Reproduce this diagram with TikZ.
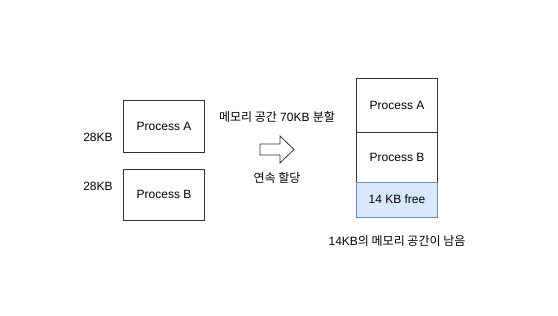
\documentclass[tikz,border=0pt]{standalone}
\usepackage{fontspec}
\setmainfont{Liberation Sans}
\newfontfamily\kr{Noto Sans CJK KR}
\begin{document}
\begin{tikzpicture}[x=1pt,y=-1pt,
  box/.style={draw=black!80, line width=0.8pt, minimum width=81pt, inner sep=0pt, font=\fontsize{12}{14}\selectfont},
  lbl/.style={inner sep=0pt, font=\fontsize{12}{14}\selectfont}]
\useasboundingbox (0,0) rectangle (558,316);
% left boxes
\node[box, minimum height=52pt] (pa) at (164,126) {Process A};
\node[box, minimum height=51pt] (pb) at (164,194.5) {Process B};
\node[lbl] (la) at (98,137.5) {28KB};
\node[lbl] (lb) at (98,186) {28KB};
% arrow
\draw[black!80, line width=0.8pt, fill=white] (260,144) -- (280,144) -- (280,136) -- (294,149.5) -- (280,163) -- (280,155) -- (260,155) -- cycle;
\node[lbl] (t1) at (277,117) {{\kr 메모리 공간} 70KB {\kr 분할}};
\node[lbl] (t2) at (277,178) {\kr 연속 할당};
% right stack
\node[box, minimum height=54pt] (ra) at (397,105) {Process A};
\node[box, minimum height=50pt] (rb) at (397,157) {Process B};
\node[box, minimum height=35pt, fill={rgb,255:red,218;green,232;blue,252}, draw={rgb,255:red,108;green,142;blue,191}] (rf) at (397,199.5) {14 KB free};
\node[lbl] (t3) at (397,241) {14KB{\kr 의 메모리 공간이 남음}};
\end{tikzpicture}
\end{document}
